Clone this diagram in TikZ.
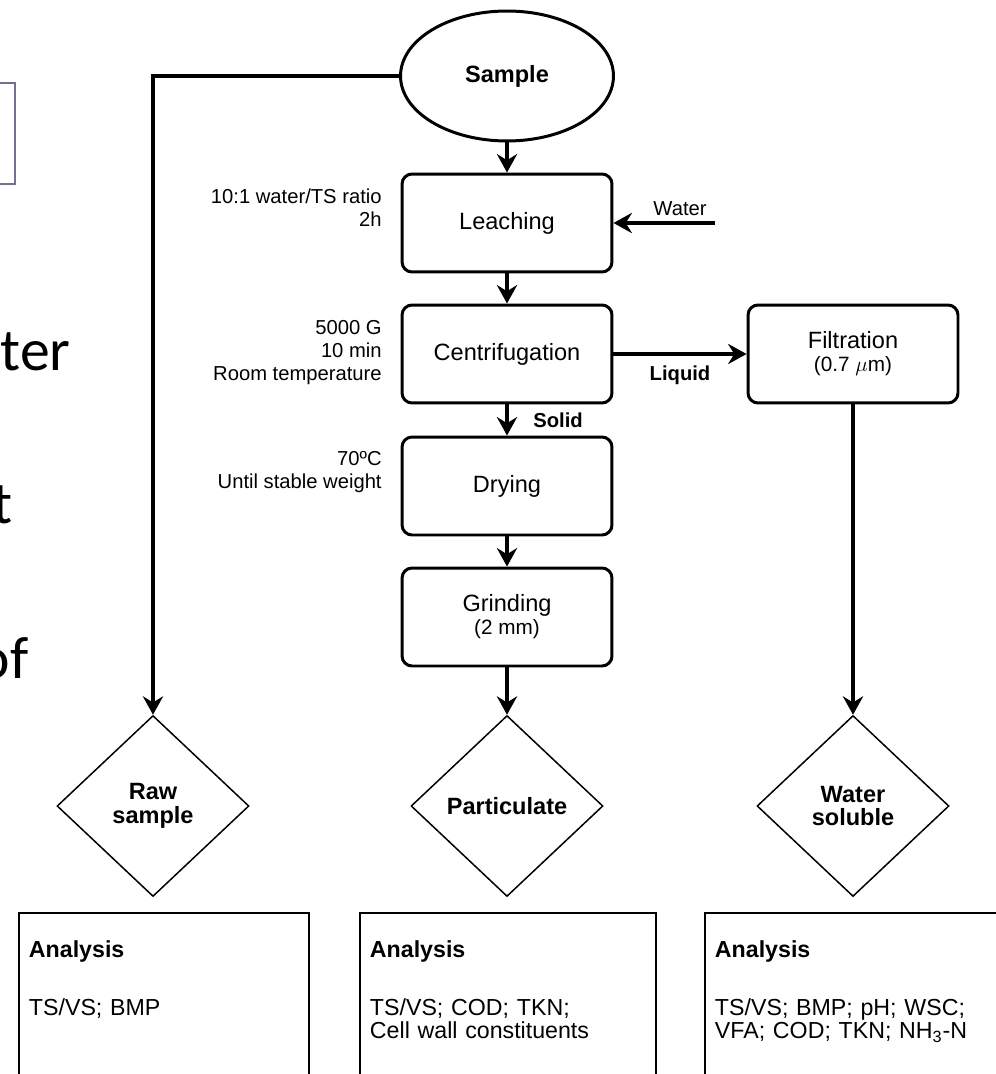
\documentclass[tikz,border=0pt]{standalone}
\usepackage{fontspec}
\setmainfont{Liberation Sans}
\newfontfamily\slidefont{Carlito}
\usetikzlibrary{shapes.geometric, arrows.meta, positioning}

\definecolor{slideframe}{RGB}{112,112,160}

\tikzset{
  procbox/.style={draw, line width=1.7pt, rounded corners=0.2cm, minimum width=4.2cm,
    minimum height=1.96cm, align=center, inner sep=0pt, font=\fontsize{13.4}{13}\selectfont},
  startnode/.style={draw, ellipse, line width=1.7pt, minimum width=4.26cm, minimum height=2.6cm,
    inner sep=0pt, font=\bfseries\fontsize{13.4}{14}\selectfont},
  resultnode/.style={draw, diamond, line width=0.85pt, minimum width=3.84cm, minimum height=3.62cm,
    align=center, inner sep=0pt, font=\bfseries\fontsize{13.4}{13.6}\selectfont},
  anabox/.style={draw, line width=1.1pt, anchor=north west, align=left, inner xsep=0.2cm,
    inner ysep=0.56cm, text depth=4cm, font=\fontsize{13.2}{13}\selectfont},
  sidelab/.style={anchor=north east, align=right, inner sep=0pt, font=\fontsize{11.5}{13}\selectfont},
  flowlab/.style={anchor=base, inner sep=0pt, font=\fontsize{11.5}{13}\selectfont},
  boldlab/.style={anchor=base, inner sep=0pt, font=\bfseries\fontsize{11.5}{13}\selectfont},
  slidetxt/.style={anchor=base east, inner sep=0pt, font=\slidefont\fontsize{34}{40}\selectfont},
  flow/.style={-{Stealth[length=10.5pt, width=11.5pt, inset=3.5pt]}, line width=2.2pt},
}

\begin{document}
\begin{tikzpicture}[x=0.02cm, y=-0.02cm]
  \useasboundingbox (0,0) rectangle (996,1074);
  \clip (0,0) rectangle (996,1074);

  % slide behind the chart
  \draw[slideframe, line width=1.7pt] (-60,83) rectangle (15,184);
  \node[slidetxt] (frag1) at (71,370) {ter};
  \node[slidetxt] (frag2) at (13,523) {t};
  \node[slidetxt] (frag3) at (29,678) {of};

  % main column
  \node[startnode] (sample) at (507,76) {Sample};
  \node[procbox] (leach) at (507,223) {Leaching};
  \node[procbox] (centri) at (507,354) {Centrifugation};
  \node[procbox] (dry) at (507,486) {Drying};
  \node[procbox] (grind) at (507,617) {Grinding\\{\fontsize{11.8}{13}\selectfont (2 mm)}};
  \node[procbox] (filt) at (853,354) {Filtration\\{\fontsize{11.8}{13}\selectfont (0.7 $\mu$m)}};

  % conditions
  \node[sidelab] (leachcond) at (382,189) {10:1 water/TS ratio\\2h};
  \node[sidelab] (centricond) at (382,320) {5000 G\\10 min\\Room temperature};
  \node[sidelab] (drycond) at (382,451) {70ºC\\Until stable weight};

  % fractions
  \node[resultnode] (rawres) at (153,806) {Raw\\sample};
  \node[resultnode] (partres) at (507,806) {Particulate};
  \node[resultnode] (waterres) at (853,806) {Water\\soluble};

  % analyses
  \node[anabox, text width=5.4cm] (rawana) at (18,912)
    {\textbf{Analysis}\\[19.9pt]TS/VS; BMP};
  \node[anabox, text width=5.52cm] (partana) at (359,912)
    {\textbf{Analysis}\\[19.9pt]TS/VS; COD; TKN;\\Cell wall constituents};
  \node[anabox, text width=6.2cm] (waterana) at (704,912)
    {\textbf{Analysis}\\[19.9pt]TS/VS; BMP; pH; WSC;\\VFA; COD; TKN; NH\textsubscript{3}-N};

  % connectors
  \coordinate (waterin) at (715,223);
  \draw[flow] (sample) -- (leach);
  \draw[flow] (waterin) -- (leach);
  \draw[flow] (leach) -- (centri);
  \draw[flow] (centri) -- (dry);
  \draw[flow] (dry) -- (grind);
  \draw[flow] (grind) -- (partres);
  \draw[flow] (centri) -- (filt);
  \draw[flow] (filt) -- (waterres);
  \draw[flow] (sample.west) -| (rawres.north);

  \node[flowlab] (waterlab) at (680,216) {Water};
  \node[boldlab] (liquidlab) at (680,380) {Liquid};
  \node[boldlab] (solidlab) at (558,427) {Solid};
\end{tikzpicture}
\end{document}
